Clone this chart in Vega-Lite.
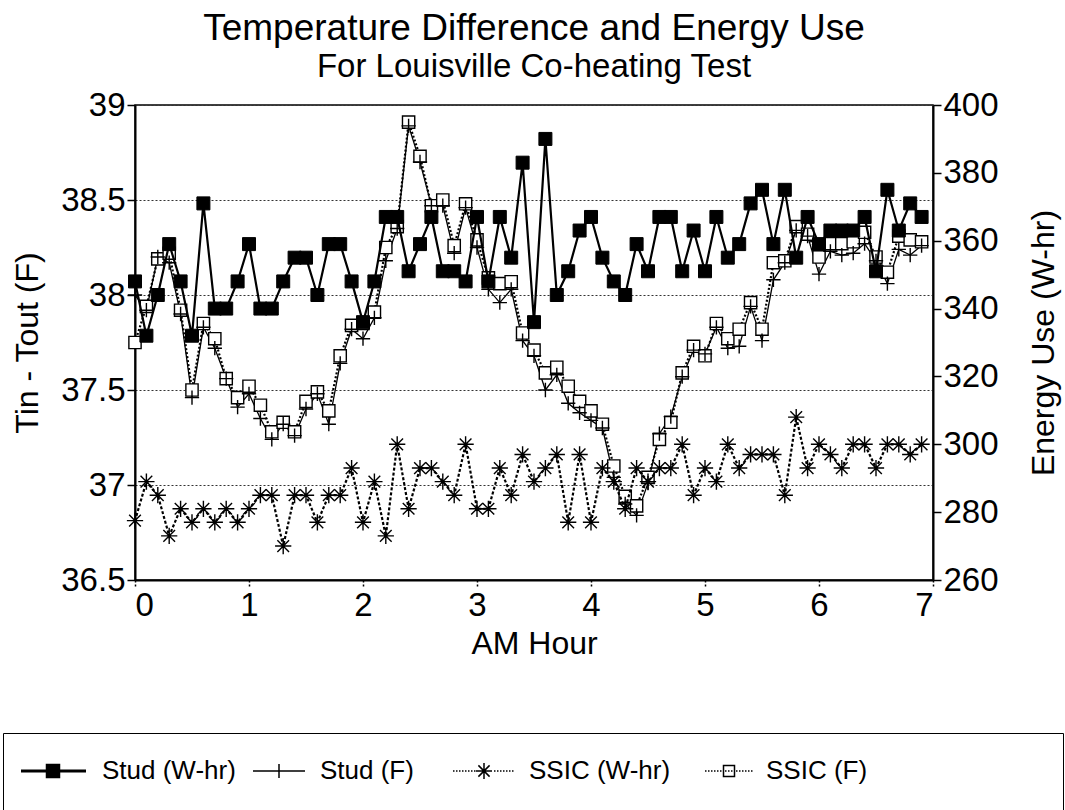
{
  "$schema": "https://vega.github.io/schema/vega-lite/v6.json",
  "width": 798,
  "height": 475,
  "autosize": {"type": "none"},
  "padding": {"left": 135, "top": 105, "right": 132, "bottom": 230},
  "background": "white",
  "title": {
    "text": "Temperature Difference and Energy Use",
    "subtitle": "For Louisville Co-heating Test",
    "font": "Liberation Sans",
    "subtitleFont": "Liberation Sans",
    "fontSize": 37,
    "subtitleFontSize": 33,
    "fontWeight": "normal",
    "color": "black",
    "subtitleColor": "black",
    "anchor": "middle",
    "offset": 4,
    "subtitlePadding": 3
  },
  "data": {
    "values": [
      {"h": 0.0, "studW": 348, "studF": 38.00, "ssicW": 277.5, "ssicF": 37.75},
      {"h": 0.1, "studW": 332, "studF": 37.92, "ssicW": 289, "ssicF": 37.94},
      {"h": 0.2, "studW": 344, "studF": 38.20, "ssicW": 285, "ssicF": 38.19},
      {"h": 0.3, "studW": 359, "studF": 38.17, "ssicW": 273, "ssicF": 38.22},
      {"h": 0.4, "studW": 348, "studF": 37.90, "ssicW": 281, "ssicF": 37.92},
      {"h": 0.5, "studW": 332, "studF": 37.46, "ssicW": 277, "ssicF": 37.50},
      {"h": 0.6, "studW": 371, "studF": 37.83, "ssicW": 281, "ssicF": 37.85},
      {"h": 0.7, "studW": 340, "studF": 37.72, "ssicW": 277, "ssicF": 37.77},
      {"h": 0.8, "studW": 340, "studF": 37.56, "ssicW": 281, "ssicF": 37.56},
      {"h": 0.9, "studW": 348, "studF": 37.41, "ssicW": 277, "ssicF": 37.46},
      {"h": 1.0, "studW": 359, "studF": 37.48, "ssicW": 281, "ssicF": 37.52},
      {"h": 1.1, "studW": 340, "studF": 37.35, "ssicW": 285, "ssicF": 37.42},
      {"h": 1.2, "studW": 340, "studF": 37.24, "ssicW": 285, "ssicF": 37.28},
      {"h": 1.3, "studW": 348, "studF": 37.32, "ssicW": 270, "ssicF": 37.33},
      {"h": 1.4, "studW": 355, "studF": 37.26, "ssicW": 285, "ssicF": 37.28},
      {"h": 1.5, "studW": 355, "studF": 37.40, "ssicW": 285, "ssicF": 37.44},
      {"h": 1.6, "studW": 344, "studF": 37.48, "ssicW": 277, "ssicF": 37.49},
      {"h": 1.7, "studW": 359, "studF": 37.32, "ssicW": 285, "ssicF": 37.39},
      {"h": 1.8, "studW": 359, "studF": 37.64, "ssicW": 285, "ssicF": 37.68},
      {"h": 1.9, "studW": 348, "studF": 37.82, "ssicW": 293, "ssicF": 37.84},
      {"h": 2.0, "studW": 336, "studF": 37.77, "ssicW": 277, "ssicF": 37.85},
      {"h": 2.1, "studW": 348, "studF": 37.88, "ssicW": 289, "ssicF": 37.91},
      {"h": 2.2, "studW": 367, "studF": 38.18, "ssicW": 273, "ssicF": 38.25},
      {"h": 2.3, "studW": 367, "studF": 38.35, "ssicW": 300, "ssicF": 38.36},
      {"h": 2.4, "studW": 351, "studF": 38.89, "ssicW": 281, "ssicF": 38.91},
      {"h": 2.5, "studW": 359, "studF": 38.70, "ssicW": 293, "ssicF": 38.73},
      {"h": 2.6, "studW": 367, "studF": 38.47, "ssicW": 293, "ssicF": 38.47},
      {"h": 2.7, "studW": 351, "studF": 38.47, "ssicW": 289, "ssicF": 38.50},
      {"h": 2.8, "studW": 351, "studF": 38.22, "ssicW": 285, "ssicF": 38.26},
      {"h": 2.9, "studW": 348, "studF": 38.46, "ssicW": 300, "ssicF": 38.48},
      {"h": 3.0, "studW": 367, "studF": 38.25, "ssicW": 281, "ssicF": 38.29},
      {"h": 3.1, "studW": 348, "studF": 38.03, "ssicW": 281, "ssicF": 38.09},
      {"h": 3.2, "studW": 367, "studF": 37.96, "ssicW": 293, "ssicF": 38.06},
      {"h": 3.3, "studW": 355, "studF": 38.03, "ssicW": 285, "ssicF": 38.07},
      {"h": 3.4, "studW": 383, "studF": 37.76, "ssicW": 297, "ssicF": 37.80},
      {"h": 3.5, "studW": 336, "studF": 37.68, "ssicW": 289, "ssicF": 37.71},
      {"h": 3.6, "studW": 390, "studF": 37.50, "ssicW": 293, "ssicF": 37.59},
      {"h": 3.7, "studW": 344, "studF": 37.58, "ssicW": 297, "ssicF": 37.62},
      {"h": 3.8, "studW": 351, "studF": 37.43, "ssicW": 277, "ssicF": 37.52},
      {"h": 3.9, "studW": 363, "studF": 37.38, "ssicW": 297, "ssicF": 37.44},
      {"h": 4.0, "studW": 367, "studF": 37.34, "ssicW": 277, "ssicF": 37.39},
      {"h": 4.1, "studW": 355, "studF": 37.30, "ssicW": 293, "ssicF": 37.32},
      {"h": 4.2, "studW": 348, "studF": 37.04, "ssicW": 289, "ssicF": 37.10},
      {"h": 4.3, "studW": 344, "studF": 36.90, "ssicW": 281, "ssicF": 36.94},
      {"h": 4.4, "studW": 359, "studF": 36.84, "ssicW": 293, "ssicF": 36.89},
      {"h": 4.5, "studW": 351, "studF": 37.01, "ssicW": 289, "ssicF": 37.04},
      {"h": 4.6, "studW": 367, "studF": 37.27, "ssicW": 293, "ssicF": 37.24},
      {"h": 4.7, "studW": 367, "studF": 37.36, "ssicW": 293, "ssicF": 37.33},
      {"h": 4.8, "studW": 351, "studF": 37.57, "ssicW": 300, "ssicF": 37.59},
      {"h": 4.9, "studW": 363, "studF": 37.71, "ssicW": 285, "ssicF": 37.73},
      {"h": 5.0, "studW": 351, "studF": 37.69, "ssicW": 293, "ssicF": 37.68},
      {"h": 5.1, "studW": 367, "studF": 37.83, "ssicW": 289, "ssicF": 37.85},
      {"h": 5.2, "studW": 355, "studF": 37.72, "ssicW": 300, "ssicF": 37.77},
      {"h": 5.3, "studW": 359, "studF": 37.73, "ssicW": 293, "ssicF": 37.82},
      {"h": 5.4, "studW": 371, "studF": 37.94, "ssicW": 297, "ssicF": 37.96},
      {"h": 5.5, "studW": 375, "studF": 37.76, "ssicW": 297, "ssicF": 37.82},
      {"h": 5.6, "studW": 359, "studF": 38.08, "ssicW": 297, "ssicF": 38.17},
      {"h": 5.7, "studW": 375, "studF": 38.17, "ssicW": 285, "ssicF": 38.18},
      {"h": 5.8, "studW": 355, "studF": 38.34, "ssicW": 308, "ssicF": 38.36},
      {"h": 5.9, "studW": 367, "studF": 38.31, "ssicW": 293, "ssicF": 38.32},
      {"h": 6.0, "studW": 359, "studF": 38.11, "ssicW": 300, "ssicF": 38.20},
      {"h": 6.1, "studW": 363, "studF": 38.23, "ssicW": 297, "ssicF": 38.27},
      {"h": 6.2, "studW": 363, "studF": 38.21, "ssicW": 293, "ssicF": 38.27},
      {"h": 6.3, "studW": 363, "studF": 38.22, "ssicW": 300, "ssicF": 38.28},
      {"h": 6.4, "studW": 367, "studF": 38.27, "ssicW": 300, "ssicF": 38.33},
      {"h": 6.5, "studW": 351, "studF": 38.18, "ssicW": 293, "ssicF": 38.20},
      {"h": 6.6, "studW": 375, "studF": 38.06, "ssicW": 300, "ssicF": 38.12},
      {"h": 6.7, "studW": 363, "studF": 38.24, "ssicW": 300, "ssicF": 38.31},
      {"h": 6.8, "studW": 371, "studF": 38.21, "ssicW": 297, "ssicF": 38.29},
      {"h": 6.9, "studW": 367, "studF": 38.26, "ssicW": 300, "ssicF": 38.28}
    ]
  },
  "transform": [
    {"fold": ["studW", "studF", "ssicW", "ssicF"], "as": ["series", "value"]}
  ],
  "encoding": {
    "x": {
      "field": "h",
      "type": "quantitative",
      "scale": {"domain": [0, 7], "nice": false},
      "axis": {
        "values": [0, 1, 2, 3, 4, 5, 6, 7],
        "format": "d",
        "title": "AM Hour",
        "tickSize": 8,
        "tickDash": [2, 2],
        "labelPadding": 1,
        "titlePadding": 6,
        "grid": false
      }
    }
  },
  "layer": [
    {
      "transform": [{"filter": {"field": "series", "oneOf": ["studF", "ssicF"]}}],
      "encoding": {
        "y": {
          "field": "value",
          "type": "quantitative",
          "scale": {"domain": [36.5, 39], "nice": false, "zero": false},
          "axis": {
            "orient": "left",
            "values": [36.5, 37, 37.5, 38, 38.5, 39],
            "format": "~g",
            "title": "Tin - Tout (F)",
            "grid": true,
            "gridDash": [2, 2],
            "gridColor": "#333333",
            "gridWidth": 1,
            "tickSize": 8,
            "labelPadding": 2,
            "titlePadding": 16
          }
        }
      },
      "layer": [
        {
          "transform": [{"filter": "datum.series === 'studF'"}],
          "mark": {"type": "line", "stroke": "black", "strokeWidth": 1.3}
        },
        {
          "transform": [{"filter": "datum.series === 'ssicF'"}],
          "mark": {"type": "line", "stroke": "black", "strokeWidth": 2.2, "strokeDash": [2, 2]}
        },
        {
          "transform": [{"filter": "datum.series === 'ssicF'"}],
          "mark": {"type": "point", "shape": "M-1,-1H1V1H-1Z", "size": 150, "stroke": "black", "strokeWidth": 1.4, "fill": "white", "opacity": 1, "fillOpacity": 1}
        },
        {
          "transform": [{"filter": "datum.series === 'studF'"}],
          "mark": {"type": "point", "shape": "M-1.1,0H1.1M0,-1.1V1.1", "size": 169, "stroke": "black", "strokeWidth": 1.4, "fill": "none", "opacity": 1}
        }
      ]
    },
    {
      "transform": [{"filter": {"field": "series", "oneOf": ["studW", "ssicW"]}}],
      "encoding": {
        "y": {
          "field": "value",
          "type": "quantitative",
          "scale": {"domain": [260, 400], "nice": false, "zero": false},
          "axis": {
            "orient": "right",
            "values": [260, 280, 300, 320, 340, 360, 380, 400],
            "title": "Energy Use (W-hr)",
            "titleAngle": 270,
            "titleBaseline": "top",
            "grid": false,
            "tickSize": 8,
            "labelPadding": 2,
            "titlePadding": 30
          }
        }
      },
      "layer": [
        {
          "transform": [{"filter": "datum.series === 'studW'"}],
          "mark": {"type": "line", "stroke": "black", "strokeWidth": 2.2}
        },
        {
          "transform": [{"filter": "datum.series === 'ssicW'"}],
          "mark": {"type": "line", "stroke": "black", "strokeWidth": 2.2, "strokeDash": [3, 2]}
        },
        {
          "transform": [{"filter": "datum.series === 'ssicW'"}],
          "mark": {"type": "point", "shape": "M-1.25,0H1.25M0,-1.25V1.25M-0.9,-0.9L0.9,0.9M-0.9,0.9L0.9,-0.9", "size": 169, "stroke": "black", "strokeWidth": 1.4, "fill": "none", "opacity": 1}
        },
        {
          "transform": [{"filter": "datum.series === 'studW'"}],
          "mark": {"type": "point", "shape": "M-1,-1H1V1H-1Z", "size": 169, "stroke": "black", "strokeWidth": 1, "fill": "black", "opacity": 1, "fillOpacity": 1}
        },
        {
          "transform": [{"filter": "false"}],
          "mark": {"type": "point", "filled": true, "stroke": "black", "strokeWidth": 1.5, "opacity": 1, "fillOpacity": 1},
          "encoding": {
            "shape": {
              "field": "series",
              "type": "nominal",
              "scale": {
                "domain": ["studW", "studF", "ssicW", "ssicF"],
                "range": [
                  "M-1,-1M-1,1M-1,-0.04H2.25M-1,0.04H2.25M0.275,-0.325H0.925V0.325H0.275Z",
                  "M-1,-1M-1,1M-0.3,0H2.3M1,-0.35V0.35M9.15,0",
                  "M-1,-1M-1,1M-0.75,0h0.075m0.075,0h0.075m0.075,0h0.075m0.075,0h0.075m0.075,0h0.075m0.075,0h0.075m0.075,0h0.075m0.075,0h0.075M0.4,0H1.2M0.8,-0.4V0.4M0.52,-0.28L1.08,0.28M0.52,0.28L1.08,-0.28M1.3,0h0.075m0.075,0h0.075m0.075,0h0.075m0.075,0h0.075m0.075,0h0.075m0.075,0h0.075m0.075,0h0.075M10.55,0",
                  "M-1,-1M-1,1M0,0h0.075m0.075,0h0.075m0.075,0h0.075m0.075,0h0.075m0.075,0h0.075m0.075,0h0.075M0.925,-0.275H1.475V0.275H0.925ZM1,0h0.075m0.075,0h0.075m0.075,0h0.075M1.55,0h0.075m0.075,0h0.075m0.075,0h0.075m0.075,0h0.075m0.075,0h0.075m0.075,0h0.075M16.9,0"
                ]
              },
              "legend": {
                "orient": "none",
                "legendX": -132,
                "legendY": 628,
                "direction": "horizontal",
                "columns": 4,
                "gridAlign": "each",
                "columnPadding": 0,
                "padding": 17,
                "strokeColor": "black",
                "fillColor": "white",
                "title": null,
                "symbolSize": 1600,
                "labelOffset": 40,
                "labelFontSize": 26,
                "labelFont": "Liberation Sans",
                "labelColor": "black",
                "labelLimit": 600,
                "labelExpr": "datum.value === 'studW' ? 'Stud (W-hr)' : datum.value === 'studF' ? 'Stud (F)' : datum.value === 'ssicW' ? 'SSIC (W-hr)' : 'SSIC (F)'"
              }
            },
            "fill": {
              "field": "series",
              "type": "nominal",
              "scale": {"domain": ["studW", "studF", "ssicW", "ssicF"], "range": ["black", "black", "black", "white"]}
            }
          }
        }
      ]
    }
  ],
  "resolve": {"scale": {"y": "independent"}, "axis": {"y": "independent"}},
  "config": {
    "view": {"stroke": "black", "strokeWidth": 1.5},
    "axis": {
      "domainColor": "black",
      "domainWidth": 2,
      "tickColor": "black",
      "tickWidth": 1.5,
      "labelColor": "black",
      "titleColor": "black",
      "labelFont": "Liberation Sans",
      "titleFont": "Liberation Sans",
      "titleFontWeight": "normal",
      "labelFontSize": 33,
      "titleFontSize": 32
    }
  }
}
